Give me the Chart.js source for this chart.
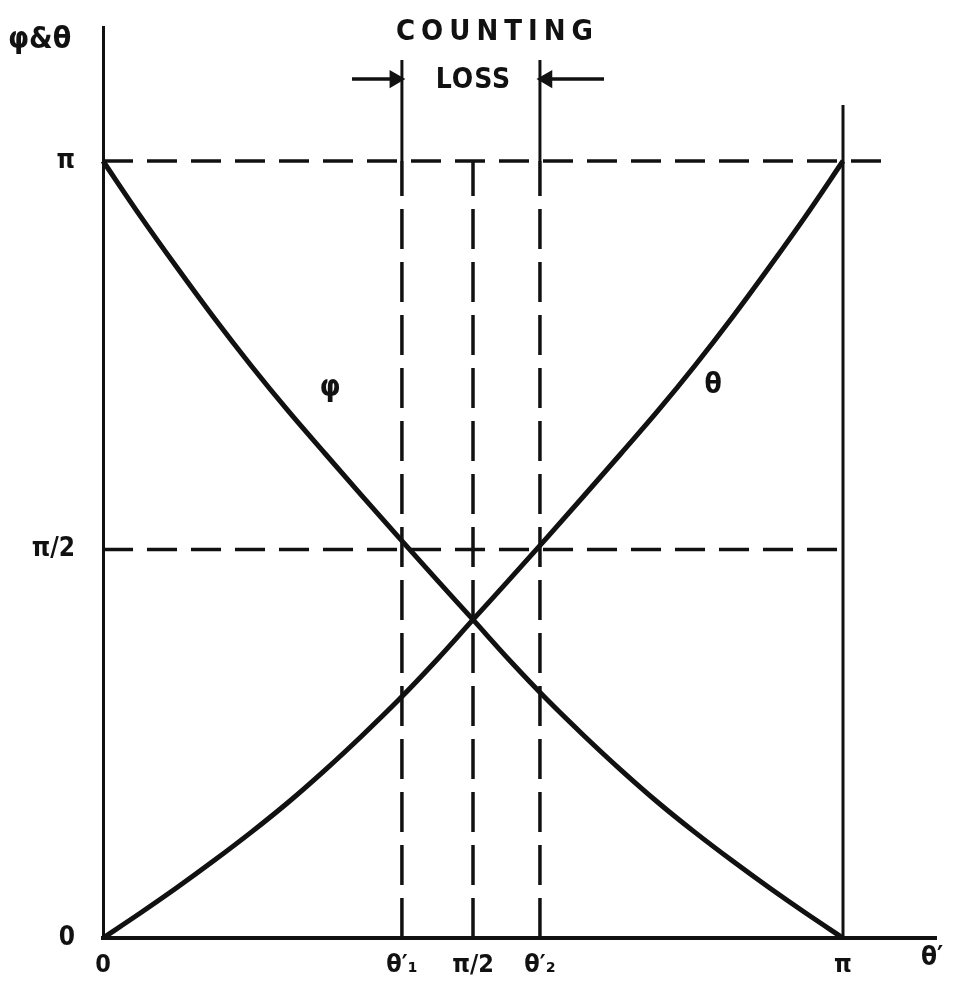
<!DOCTYPE html>
<html>
<head>
<meta charset="utf-8">
<script src="https://cdn.jsdelivr.net/npm/chart.js@4/dist/chart.umd.min.js"></script>
<style>
  html, body { margin: 0; padding: 0; background: #fff; }
  #wrap { width: 956px; height: 991px; }
</style>
</head>
<body>
<div id="wrap"><canvas id="c" width="956" height="991"></canvas></div>
<script>
const PI = Math.PI;

// ---- data (radians) ----
const thetaPrime = [0, PI/20, 2*PI/20, 3*PI/20, 4*PI/20, 5*PI/20, 6*PI/20, 7*PI/20, 8*PI/20, 9*PI/20, 10*PI/20,
                    11*PI/20, 12*PI/20, 13*PI/20, 14*PI/20, 15*PI/20, 16*PI/20, 17*PI/20, 18*PI/20, 19*PI/20, PI];
const thetaValues = [0, 0.100, 0.204, 0.313, 0.427, 0.548, 0.679, 0.818, 0.964, 1.121, 1.287,
                     1.452, 1.619, 1.788, 1.959, 2.132, 2.315, 2.508, 2.711, 2.921, PI];
const phiValues   = [PI, 2.921, 2.711, 2.508, 2.315, 2.132, 1.959, 1.788, 1.619, 1.452, 1.287,
                     1.121, 0.964, 0.818, 0.679, 0.548, 0.427, 0.313, 0.204, 0.100, 0];

const theta1 = 1.269;
const theta2 = 1.855;

const xTickValues = [0, theta1, PI/2, theta2, PI];
const xTickLabels = ['0', 'θ′\u2081', 'π/2', 'θ′\u2082', 'π'];
const yTickValues = [0, PI/2, PI];
const yTickLabels = ['0', 'π/2', 'π'];

const xMax = 3.5364;
const yMax = 3.6834;
const piLineEnd = 3.354;      // dashed π line runs past the right frame
const markerTop = 3.55;       // top of the θ′1 / θ′2 marker lines
const rightFrameTop = 3.368;  // top of the line at θ′ = π
const arrowY = 3.473;
const leftArrowStart = 1.057;
const rightArrowStart = 2.127;

const INK = '#111';

function seg(x1, y1, x2, y2) { return [{x: x1, y: y1}, {x: x2, y: y2}]; }

function lineDs(data, opts) {
  return Object.assign({
    data: data, showLine: true, borderColor: INK, backgroundColor: INK,
    borderWidth: 3.5, pointRadius: 0, tension: 0, fill: false, clip: false
  }, opts || {});
}

const DASH_H = [30, 14];
const DASH_V = [40, 13];

const datasets = [
  lineDs(thetaPrime.map((x, i) => ({x: x, y: thetaValues[i]})), {borderWidth: 5, cubicInterpolationMode: 'monotone'}),
  lineDs(thetaPrime.map((x, i) => ({x: x, y: phiValues[i]})), {borderWidth: 5, cubicInterpolationMode: 'monotone'}),
  // dashed guides
  lineDs(seg(0, PI, piLineEnd, PI), {borderDash: DASH_H}),
  lineDs(seg(0, PI/2, PI, PI/2), {borderDash: DASH_H}),
  lineDs(seg(theta1, 0, theta1, PI), {borderDash: DASH_V}),
  lineDs(seg(PI/2, 0, PI/2, PI), {borderDash: DASH_V}),
  lineDs(seg(theta2, 0, theta2, PI), {borderDash: DASH_V}),
  // solid markers
  lineDs(seg(theta1, PI, theta1, markerTop), {borderWidth: 3}),
  lineDs(seg(theta2, PI, theta2, markerTop), {borderWidth: 3}),
  lineDs(seg(PI, 0, PI, rightFrameTop), {borderWidth: 3}),
  // arrows
  lineDs(seg(leftArrowStart, arrowY, theta1 - 0.03, arrowY), {borderWidth: 3.5, pointStyle: 'triangle', pointRadius: [0, 7], pointRotation: 90}),
  lineDs(seg(rightArrowStart, arrowY, theta2 + 0.03, arrowY), {borderWidth: 3.5, pointStyle: 'triangle', pointRadius: [0, 7], pointRotation: -90})
];

// text annotations placed in data coordinates
const notes = [
  {text: 'COUNTING', x: (theta1 + theta2) / 2 + 0.10, y: 3.66, size: 29, spacing: 6},
  {text: 'LOSS', x: PI/2, y: 3.465, size: 28, spacing: 1},
  {text: 'φ', x: 0.964, y: 2.223, size: 30, spacing: 0},
  {text: 'θ', x: 2.590, y: 2.232, size: 28, spacing: 0}
];

const textPlugin = {
  id: 'notes',
  afterDatasetsDraw(chart) {
    const ctx = chart.ctx;
    const xs = chart.scales.x, ys = chart.scales.y;
    ctx.save();
    ctx.fillStyle = INK;
    ctx.textAlign = 'center';
    ctx.textBaseline = 'middle';
    notes.forEach(n => {
      ctx.font = 'bold ' + n.size + 'px "DejaVu Sans Condensed", "DejaVu Sans", sans-serif';
      ctx.letterSpacing = n.spacing + 'px';
      ctx.fillText(n.text, xs.getPixelForValue(n.x) + n.spacing / 2, ys.getPixelForValue(n.y));
    });
    ctx.letterSpacing = '0px';
    // axis names
    ctx.font = 'bold 30px "DejaVu Sans Condensed", "DejaVu Sans", sans-serif';
    ctx.textAlign = 'left';
    ctx.fillText('φ&θ', 8, 40);
    ctx.textAlign = 'center';
    ctx.font = 'bold 26px "DejaVu Sans Condensed", "DejaVu Sans", sans-serif';
    ctx.fillText('θ′', xs.right - 4, ys.bottom + 20);
    ctx.restore();
  }
};

new Chart(document.getElementById('c'), {
  type: 'scatter',
  data: {datasets: datasets},
  options: {
    responsive: false,
    animation: false,
    devicePixelRatio: 1,
    layout: {padding: {top: 27, right: 20, left: 0, bottom: 0}},
    plugins: {legend: {display: false}, tooltip: {enabled: false}},
    scales: {
      x: {
        type: 'linear', min: 0, max: xMax,
        grid: {display: false},
        border: {display: true, color: INK, width: 4},
        afterBuildTicks: s => { s.ticks = xTickValues.map(v => ({value: v})); },
        afterFit: s => { s.height = 53; s.paddingLeft = 0; s.paddingRight = 0; },
        ticks: {
          autoSkip: false, maxRotation: 0, padding: 4, color: INK,
          font: {family: '"DejaVu Sans Condensed", "DejaVu Sans", sans-serif', size: 25, weight: 'bold'},
          callback: (v, i) => xTickLabels[i]
        }
      },
      y: {
        type: 'linear', min: 0, max: yMax,
        grid: {display: false},
        border: {display: true, color: INK, width: 3},
        afterBuildTicks: s => { s.ticks = yTickValues.map(v => ({value: v})); },
        afterFit: s => { s.width = 103; s.paddingTop = 0; s.paddingBottom = 0; },
        ticks: {
          autoSkip: false, padding: 20, color: INK,
          font: {family: '"DejaVu Sans Condensed", "DejaVu Sans", sans-serif', size: 26, weight: 'bold'},
          callback: (v, i) => yTickLabels[i]
        }
      }
    }
  },
  plugins: [textPlugin]
});
</script>
</body>
</html>
